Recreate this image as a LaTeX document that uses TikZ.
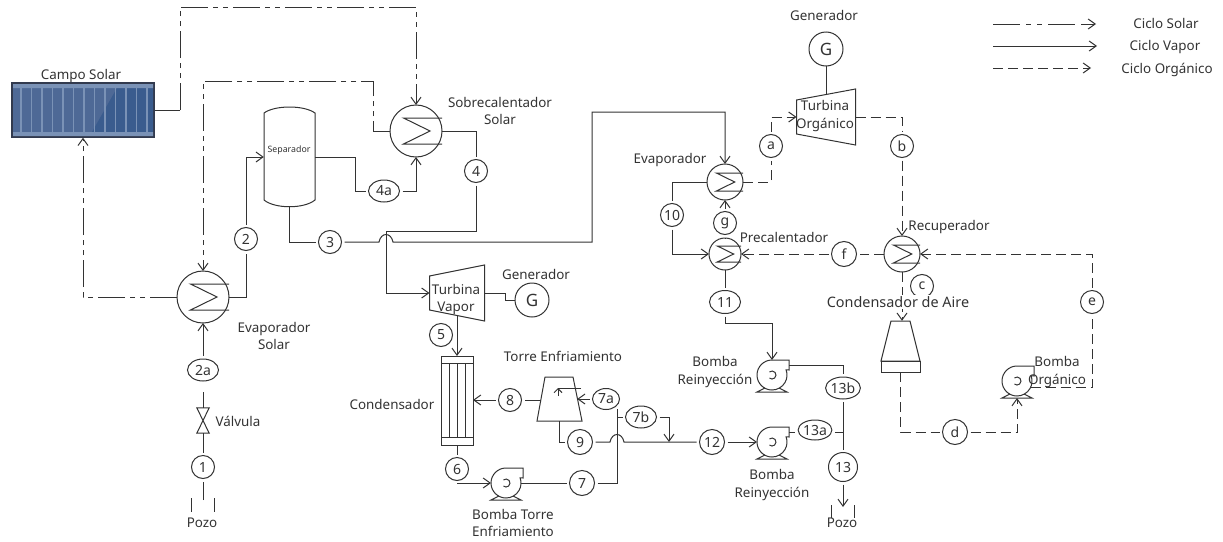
\documentclass[tikz,border=0pt]{standalone}
\usepackage{fontspec}
\setmainfont{Noto Sans}
\usepackage{xcolor}
\usetikzlibrary{arrows.meta, positioning, calc, shapes.geometric}
\definecolor{panel}{RGB}{78,105,150}
\definecolor{panelosc}{RGB}{58,92,142}
\definecolor{panelluz}{RGB}{122,146,182}
\definecolor{panelborde}{RGB}{50,58,78}

\newcommand{\intercambio}[4]{%
  \node[equipo, circle, minimum size=2*#4 pt] (#1) at (#2,#3) {};
  \draw[linea, shift={(#1)}, scale=#4] (1,-.5) -- (-.48,-.5) -- (.54,0) -- (-.48,.5) -- (1,.5);
}
\newcommand{\bombita}[3]{%
  \node[equipo, draw=none, fill=none, circle, minimum size=30pt] (#1) at (#2,#3) {};
  \draw[linea, fill=white, shift={(#1)}] (0,-15) arc[start angle=-90, end angle=-380, radius=15] -- (17,-5) -- (17,-15) -- cycle;
  \draw[linea, shift={(#1)}] (-7,13) -- (-15,17) -- (15,17) -- (7,13);
  \draw[linea, shift={(#1)}] (-130:4) arc[start angle=-130, end angle=130, radius=4];
  \coordinate (#1s) at ($(#1)+(17,-10)$);
  \coordinate (#1b) at ($(#1)+(0,17)$);
}
\newcommand{\turbina}[4]{%
  \node[equipo, draw=none, minimum width=2*#4 pt, minimum height=45pt] (#1) at (#2,#3) {};
  \draw[linea, shift={(#1)}] (-#4,-17) -- (#4,-28) -- (#4,28) -- (-#4,17) -- cycle;
}

\begin{document}
\begin{tikzpicture}[
    x=1pt, y=-1pt,
    font=\fontsize{13.4}{17.5}\selectfont,
    text=black!80,
    linea/.style={draw=black!80, line width=1pt},
    vapor/.style={linea},
    solar/.style={linea, dash pattern=on 27pt off 5pt on 5pt off 5pt on 5pt off 5pt},
    organico/.style={linea, dash pattern=on 10pt off 5pt},
    punta/.style={-{Straight Barb[length=7pt, width=10pt]}},
    equipo/.style={linea, fill=white, inner sep=0pt, outer sep=0pt},
    estado/.style={linea, circle, fill=white, inner sep=0pt, outer sep=3pt, minimum size=23pt, font=\fontsize{14}{14}\selectfont},
    estadoe/.style={linea, ellipse, fill=white, inner sep=0pt, outer sep=3pt, minimum width=31pt, minimum height=22pt, font=\fontsize{14}{14}\selectfont},
    etiqueta/.style={align=center, inner sep=0pt}
  ]
    \useasboundingbox (0,0) rectangle (1223,541);
    \fill[white] (0,0) rectangle (1223,541);

    \node[draw=panelborde, line width=1.4pt, fill=panel, minimum width=142pt, minimum height=54pt, inner sep=0pt] (campo) at (83,110) {};
    \fill[panelosc] (92,132) -- (117,88) -- (153,88) -- (153,132) -- cycle;
    \foreach \xp in {21,31.5,...,151}
      \draw[panelluz, line width=1.6pt] (\xp,88) -- (\xp,132);
    \fill[panelluz] (13,84) rectangle (153,88) (13,132) rectangle (153,136);
    \node[etiqueta] (lcampo) at (81,76) {Campo Solar};

    \intercambio{sobre}{416}{131}{26}
    \intercambio{evs}{203}{297}{26}
    \intercambio{evap}{725}{182}{18}
    \intercambio{pre}{725}{254}{16}
    \intercambio{rec}{902}{254}{18}

    \node[inner sep=0pt, minimum width=51pt, minimum height=100pt] (sep) at (289.5,157) {};
    \draw[linea] (264,113) .. controls (275,105) and (304,105) .. (315,113) -- (315,200) .. controls (304,209) and (275,209) .. (264,200) -- cycle;
    \node[etiqueta, font=\fontsize{8.8}{10}\selectfont] (lsep) at (289,150) {Separador};

    \turbina{tv}{457}{293}{27.5}
    \turbina{tor}{826}{117}{29.5}
    \node[etiqueta] (ltv) at (456,299.5) {Turbina\\Vapor};
    \node[etiqueta] (ltor) at (825,116) {Turbina\\Orgánico};
    \node[equipo, circle, minimum size=34pt, font=\fontsize{17}{17}\selectfont] (gv) at (532,300) {G};
    \node[equipo, circle, minimum size=34pt, font=\fontsize{17}{17}\selectfont] (go) at (826,49) {G};

    \node[equipo, draw, minimum width=32pt, minimum height=89pt] (cond) at (457,400.5) {};
    \draw[linea] (441,363) -- (473,363) (441,437) -- (473,437);
    \foreach \xt in {449,457,465}
      \draw[linea] (\xt,363) -- (\xt,437);

    \node[inner sep=0pt, minimum width=36pt, minimum height=44pt] (torre) at (559,399) {};
    \draw[linea] (545,377) -- (573,377) -- (582,421) -- (537,421) -- cycle;
    \draw[linea] (581,388) -- (558,388);
    \draw[linea, -{Straight Barb[length=4pt, width=8pt]}] (558,396) -- (558,388);

    \node[inner sep=0pt, minimum width=30pt, minimum height=40pt] (aire) at (901,341) {};
    \draw[linea] (891,321) -- (910,321) -- (920,361) -- (881,361) -- cycle;
    \node[equipo, draw, minimum width=39pt, minimum height=11pt] (airebase) at (900.5,366.5) {};

    \bombita{btorre}{506}{483}
    \bombita{bri}{772}{375}
    \bombita{brs}{772}{442}
    \bombita{borg}{1017}{381}

    \node[inner sep=0pt, minimum width=12pt, minimum height=25pt] (valv) at (203,420.5) {};
    \draw[linea] (valv.north west) -- (valv.north east) -- (valv.south west) -- (valv.south east) -- cycle;

    \node[estado] (n1) at (203,467) {1};
    \node[estado] (n2) at (246,239) {2};
    \node[estadoe] (n2a) at (203,370) {2a};
    \node[estado] (n3) at (330,242) {3};
    \node[estado] (n4) at (476,171) {4};
    \node[estadoe] (n4a) at (384,191) {4a};
    \node[estado] (n5) at (441,335) {5};
    \node[estado] (n6) at (457,469) {6};
    \node[estado, minimum size=25pt] (n7) at (582,483) {7};
    \node[estadoe, minimum width=27pt, minimum height=21pt] (n7a) at (606,399) {7a};
    \node[estadoe] (n7b) at (641,417) {7b};
    \node[estado] (n8) at (510,400) {8};
    \node[estado, minimum size=25pt] (n9) at (580,442) {9};
    \node[estado] (n10) at (672,215) {10};
    \node[estadoe, minimum height=23pt] (n11) at (725,302) {11};
    \node[estado, minimum size=25pt] (n12) at (712,442) {12};
    \node[estado, minimum size=29pt] (n13) at (843,467) {13};
    \node[estadoe, minimum width=34pt] (n13b) at (843,388) {13b};
    \node[estadoe, minimum width=32pt, minimum height=20pt] (n13a) at (815,430) {13a};
    \node[estado] (na) at (771,146) {a};
    \node[estado] (nb) at (902,146) {b};
    \node[estado] (nc) at (922,286) {c};
    \node[estado, minimum size=25pt] (nd) at (955,432) {d};
    \node[estado] (ne) at (1092,302) {e};
    \node[estado, minimum size=25pt] (nf) at (844,254) {f};
    \node[estado] (ng) at (725,223) {g};

    \coordinate (salc) at (180,110);
    \coordinate (supa) at (180,7);
    \coordinate (retoa) at (373,81);
    \coordinate (boca1) at (203,500);
    \coordinate (boca2) at (843,507);
    \coordinate (saltoa) at (379,242);
    \coordinate (saltob) at (393,242);
    \coordinate (codo3) at (592,112);
    \coordinate (cruce) at (386,231);
    \coordinate (tope7) at (617,409);
    \coordinate (union) at (669,442);
    \coordinate (saltoc) at (610,442);
    \coordinate (saltod) at (624,442);
    \coordinate (codo11) at (772,323);

    \draw[linea] (campo.east) -- (salc);
    \draw[solar, punta] (salc) -- (supa) -| (sobre.north);
    \draw[solar, punta] (sobre.west) -| (retoa) -| (evs.north);
    \draw[solar, punta] (evs.west) -| (campo.south);

    \draw[vapor] (boca1) -- (n1);
    \draw[vapor] (n1) -- (valv.south);
    \draw[vapor, shorten >=8pt] (valv.north) -- (n2a);
    \draw[vapor, punta] (n2a) -- (evs.south);
    \draw[vapor] (evs.east) -| (n2);
    \draw[vapor, punta] (n2) |- (sep.west);
    \draw[vapor] (sep.east) -- ++(40,0) |- (n4a);
    \draw[vapor, punta] (n4a) -| (sobre.south);
    \draw[vapor] (sep.south) |- (n3);
    \draw[vapor, punta] (n3) -- (saltoa) .. controls +(2,-10) and +(-2,-10) .. (saltob) -| (codo3) -| (evap.north);
    \draw[vapor] (sobre.east) -| (n4);
    \draw[vapor, punta] (n4) |- (cruce) |- (tv.west);
    \draw[vapor] (tv.east) -- ++(21,0) |- (gv.west);
    \draw[vapor, punta] (tv.south) -- (cond.north);
    \draw[vapor] (cond.south) -- (n6);
    \draw[vapor, punta] (n6) |- (btorre.west);
    \draw[vapor] (btorre.east) -- (n7);
    \draw[vapor] (n7) -| (tope7);
    \draw[vapor, punta] (n7a) -- (torre.east |- n7a);
    \draw[vapor, punta] (n8) -- (n8 -| cond.east);
    \draw[vapor] (torre.west |- n8) -- (n8);
    \draw[vapor] (torre.south) |- (n9);
    \draw[vapor] (n9) -- (saltoc) .. controls +(2,-10) and +(-2,-10) .. (saltod) -- (n12);
    \draw[vapor] (n7b) -- (n7b -| tope7);
    \draw[vapor, punta] (n7b) -| (union);
    \draw[vapor, punta] (n12) -- (brs.west);
    \draw[vapor] (brss) -- (brss -| n13a.west);
    \draw[vapor] (n13a.east |- brss) -- (brss -| n13);
    \draw[vapor] (bris) -| (n13b);
    \draw[vapor] (n13b) -- (n13);
    \draw[vapor, punta] (n13) -- (boca2);
    \draw[vapor] (evap.west) -| (n10);
    \draw[vapor, punta] (n10) |- (pre.west);
    \draw[vapor, punta] (ng) -- (evap.south);
    \draw[vapor] (pre.north) -- (ng);
    \draw[vapor] (pre.south) -- (n11);
    \draw[vapor, punta] (n11) |- (codo11) -- (bri.north);
    \draw[vapor] (go.south) -- (tor.north);

    \draw[organico] (evap.east) -| (na);
    \draw[organico, punta] (na) |- (tor.west);
    \draw[organico] (tor.east) -| (nb);
    \draw[organico, punta] (nb) -- (rec.north);
    \draw[organico] (rec.west) -- (nf);
    \draw[organico, punta] (nf) -- (pre.east);
    \draw[organico, punta] (rec.south) -- (rec.south |- aire.north);
    \draw[organico] (airebase.south) |- (nd);
    \draw[organico, punta] (nd) -| (borgb);
    \draw[organico] (borg.-25) -| (ne);
    \draw[organico, punta] (ne) |- (rec.east);

    \draw[linea] (191,498) -- (191,512) (214,498) -- (214,512);
    \draw[linea] (831,505) -- (831,518) (854,505) -- (854,518);
    \node[etiqueta] (lpozoa) at (202,523) {Pozo};
    \node[etiqueta] (lpozob) at (842,523) {Pozo};
    \node[etiqueta] (lvalv) at (238,421) {Válvula};
    \node[etiqueta] (levs) at (274,336) {Evaporador\\Solar};
    \node[etiqueta] (lsobre) at (500,111) {Sobrecalentador\\Solar};
    \node[etiqueta] (lgv) at (536,274) {Generador};
    \node[etiqueta] (lgo) at (824,15) {Generador};
    \node[etiqueta] (lcond) at (392,404) {Condensador};
    \node[etiqueta] (ltorre) at (563,356) {Torre Enfriamiento};
    \node[etiqueta] (lbtorre) at (513,523) {Bomba Torre\\Enfriamiento};
    \node[etiqueta] (lbri) at (715,372) {Bomba\\Reinyección};
    \node[etiqueta] (lbrs) at (772,485) {Bomba\\Reinyección};
    \node[etiqueta] (lborg) at (1057,372) {Bomba\\Orgánico};
    \node[etiqueta] (levap) at (670,160) {Evaporador};
    \node[etiqueta] (lpre) at (784,237) {Precalentador};
    \node[etiqueta] (lrec) at (949,227) {Recuperador};
    \node[etiqueta, fill=white, inner ysep=1pt, font=\fontsize{14.4}{17}\selectfont] (laire) at (898,302) {Condensador de Aire};

    \coordinate (leya) at (993,24);
    \coordinate (leyb) at (1096,24);
    \coordinate (leyc) at (993,46);
    \coordinate (leyd) at (1097,46);
    \coordinate (leye) at (993,68);
    \coordinate (leyf) at (1091,68);
    \draw[linea, dash pattern=on 27pt off 6pt on 5pt off 6pt on 5pt off 6pt on 27pt off 6pt, punta] (leya) -- (leyb);
    \draw[vapor, punta] (leyc) -- (leyd);
    \draw[organico, punta] (leye) -- (leyf);
    \node[etiqueta] (lsol) at (1166,23) {Ciclo Solar};
    \node[etiqueta] (lvap) at (1165,47) {Ciclo Vapor};
    \node[etiqueta] (lorg) at (1167,70) {Ciclo Orgánico};
  \end{tikzpicture}
\end{document}
